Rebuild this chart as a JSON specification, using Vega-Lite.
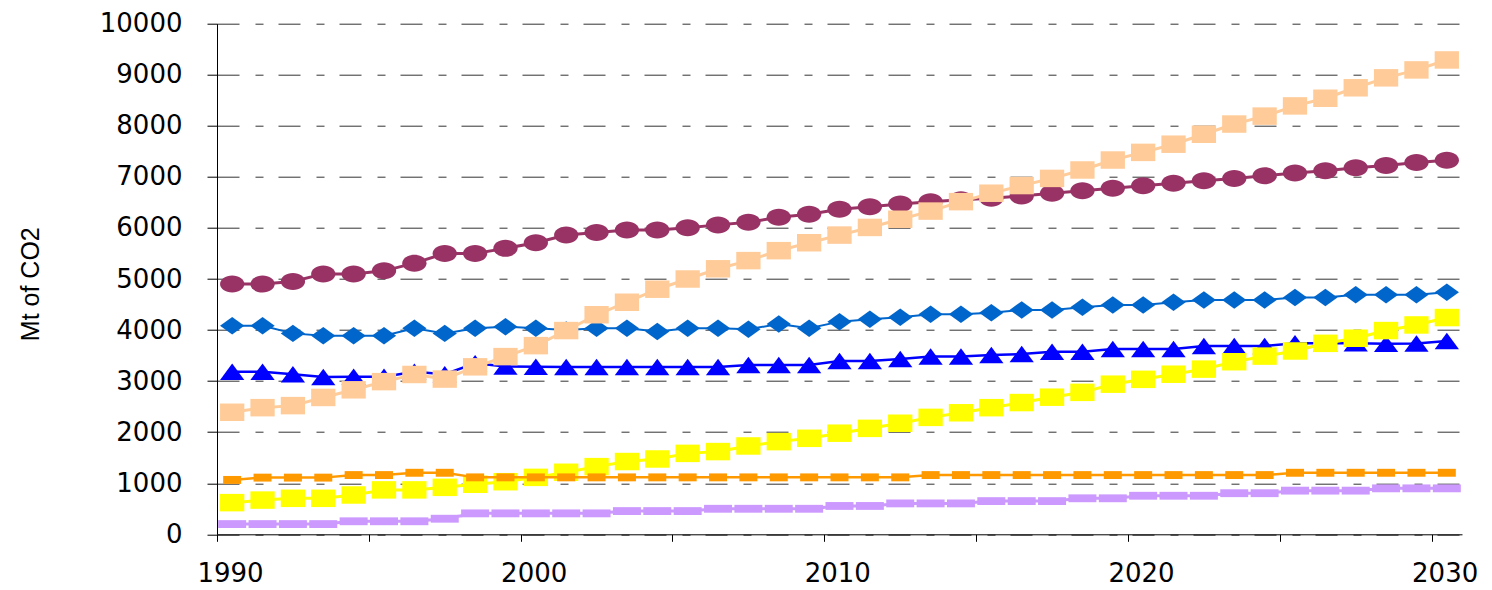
{
  "$schema": "https://vega.github.io/schema/vega-lite/v6.json",
  "width": 1245,
  "height": 510.6,
  "autosize": {"type": "none"},
  "padding": {"left": 217, "top": 23.7, "right": 30, "bottom": 55.7},
  "background": "white",
  "config": {
    "view": {"stroke": null},
    "axis": {"domainColor": "#000", "tickColor": "#000", "labelColor": "#000", "titleColor": "#000"}
  },
  "data": {"values": [
    {"year":1990,"series":"circle","v":4900},{"year":1991,"series":"circle","v":4900},{"year":1992,"series":"circle","v":4950},{"year":1993,"series":"circle","v":5100},{"year":1994,"series":"circle","v":5100},{"year":1995,"series":"circle","v":5160},{"year":1996,"series":"circle","v":5310},{"year":1997,"series":"circle","v":5500},{"year":1998,"series":"circle","v":5500},{"year":1999,"series":"circle","v":5600},
    {"year":2000,"series":"circle","v":5710},{"year":2001,"series":"circle","v":5860},{"year":2002,"series":"circle","v":5910},{"year":2003,"series":"circle","v":5960},{"year":2004,"series":"circle","v":5960},{"year":2005,"series":"circle","v":6005},{"year":2006,"series":"circle","v":6060},{"year":2007,"series":"circle","v":6110},{"year":2008,"series":"circle","v":6210},{"year":2009,"series":"circle","v":6270},
    {"year":2010,"series":"circle","v":6365},{"year":2011,"series":"circle","v":6415},{"year":2012,"series":"circle","v":6470},{"year":2013,"series":"circle","v":6515},{"year":2014,"series":"circle","v":6550},{"year":2015,"series":"circle","v":6580},{"year":2016,"series":"circle","v":6625},{"year":2017,"series":"circle","v":6680},{"year":2018,"series":"circle","v":6730},{"year":2019,"series":"circle","v":6775},
    {"year":2020,"series":"circle","v":6825},{"year":2021,"series":"circle","v":6875},{"year":2022,"series":"circle","v":6925},{"year":2023,"series":"circle","v":6970},{"year":2024,"series":"circle","v":7020},{"year":2025,"series":"circle","v":7075},{"year":2026,"series":"circle","v":7120},{"year":2027,"series":"circle","v":7180},{"year":2028,"series":"circle","v":7225},{"year":2029,"series":"circle","v":7280},{"year":2030,"series":"circle","v":7325},

    {"year":1990,"series":"peach","v":2390},{"year":1991,"series":"peach","v":2480},{"year":1992,"series":"peach","v":2520},{"year":1993,"series":"peach","v":2680},{"year":1994,"series":"peach","v":2830},{"year":1995,"series":"peach","v":2990},{"year":1996,"series":"peach","v":3130},{"year":1997,"series":"peach","v":3040},{"year":1998,"series":"peach","v":3280},{"year":1999,"series":"peach","v":3480},
    {"year":2000,"series":"peach","v":3695},{"year":2001,"series":"peach","v":3990},{"year":2002,"series":"peach","v":4300},{"year":2003,"series":"peach","v":4545},{"year":2004,"series":"peach","v":4800},{"year":2005,"series":"peach","v":5000},{"year":2006,"series":"peach","v":5200},{"year":2007,"series":"peach","v":5360},{"year":2008,"series":"peach","v":5555},{"year":2009,"series":"peach","v":5710},
    {"year":2010,"series":"peach","v":5860},{"year":2011,"series":"peach","v":6010},{"year":2012,"series":"peach","v":6170},{"year":2013,"series":"peach","v":6330},{"year":2014,"series":"peach","v":6515},{"year":2015,"series":"peach","v":6680},{"year":2016,"series":"peach","v":6830},{"year":2017,"series":"peach","v":6970},{"year":2018,"series":"peach","v":7135},{"year":2019,"series":"peach","v":7330},
    {"year":2020,"series":"peach","v":7480},{"year":2021,"series":"peach","v":7640},{"year":2022,"series":"peach","v":7835},{"year":2023,"series":"peach","v":8035},{"year":2024,"series":"peach","v":8190},{"year":2025,"series":"peach","v":8390},{"year":2026,"series":"peach","v":8540},{"year":2027,"series":"peach","v":8745},{"year":2028,"series":"peach","v":8940},{"year":2029,"series":"peach","v":9095},{"year":2030,"series":"peach","v":9290},

    {"year":1990,"series":"diamond","v":4085},{"year":1991,"series":"diamond","v":4085},{"year":1992,"series":"diamond","v":3935},{"year":1993,"series":"diamond","v":3890},{"year":1994,"series":"diamond","v":3890},{"year":1995,"series":"diamond","v":3890},{"year":1996,"series":"diamond","v":4035},{"year":1997,"series":"diamond","v":3935},{"year":1998,"series":"diamond","v":4035},{"year":1999,"series":"diamond","v":4065},
    {"year":2000,"series":"diamond","v":4035},{"year":2001,"series":"diamond","v":4000},{"year":2002,"series":"diamond","v":4035},{"year":2003,"series":"diamond","v":4035},{"year":2004,"series":"diamond","v":3970},{"year":2005,"series":"diamond","v":4035},{"year":2006,"series":"diamond","v":4035},{"year":2007,"series":"diamond","v":4015},{"year":2008,"series":"diamond","v":4120},{"year":2009,"series":"diamond","v":4035},
    {"year":2010,"series":"diamond","v":4165},{"year":2011,"series":"diamond","v":4210},{"year":2012,"series":"diamond","v":4250},{"year":2013,"series":"diamond","v":4310},{"year":2014,"series":"diamond","v":4310},{"year":2015,"series":"diamond","v":4340},{"year":2016,"series":"diamond","v":4395},{"year":2017,"series":"diamond","v":4395},{"year":2018,"series":"diamond","v":4445},{"year":2019,"series":"diamond","v":4490},
    {"year":2020,"series":"diamond","v":4490},{"year":2021,"series":"diamond","v":4545},{"year":2022,"series":"diamond","v":4590},{"year":2023,"series":"diamond","v":4590},{"year":2024,"series":"diamond","v":4590},{"year":2025,"series":"diamond","v":4640},{"year":2026,"series":"diamond","v":4640},{"year":2027,"series":"diamond","v":4690},{"year":2028,"series":"diamond","v":4690},{"year":2029,"series":"diamond","v":4690},{"year":2030,"series":"diamond","v":4740},

    {"year":1990,"series":"triangle","v":3185},{"year":1991,"series":"triangle","v":3185},{"year":1992,"series":"triangle","v":3135},{"year":1993,"series":"triangle","v":3080},{"year":1994,"series":"triangle","v":3085},{"year":1995,"series":"triangle","v":3085},{"year":1996,"series":"triangle","v":3185},{"year":1997,"series":"triangle","v":3135},{"year":1998,"series":"triangle","v":3350},{"year":1999,"series":"triangle","v":3285},
    {"year":2000,"series":"triangle","v":3280},{"year":2001,"series":"triangle","v":3275},{"year":2002,"series":"triangle","v":3275},{"year":2003,"series":"triangle","v":3275},{"year":2004,"series":"triangle","v":3275},{"year":2005,"series":"triangle","v":3275},{"year":2006,"series":"triangle","v":3275},{"year":2007,"series":"triangle","v":3315},{"year":2008,"series":"triangle","v":3315},{"year":2009,"series":"triangle","v":3315},
    {"year":2010,"series":"triangle","v":3395},{"year":2011,"series":"triangle","v":3395},{"year":2012,"series":"triangle","v":3435},{"year":2013,"series":"triangle","v":3480},{"year":2014,"series":"triangle","v":3480},{"year":2015,"series":"triangle","v":3510},{"year":2016,"series":"triangle","v":3530},{"year":2017,"series":"triangle","v":3575},{"year":2018,"series":"triangle","v":3575},{"year":2019,"series":"triangle","v":3630},
    {"year":2020,"series":"triangle","v":3630},{"year":2021,"series":"triangle","v":3630},{"year":2022,"series":"triangle","v":3690},{"year":2023,"series":"triangle","v":3690},{"year":2024,"series":"triangle","v":3690},{"year":2025,"series":"triangle","v":3740},{"year":2026,"series":"triangle","v":3740},{"year":2027,"series":"triangle","v":3740},{"year":2028,"series":"triangle","v":3730},{"year":2029,"series":"triangle","v":3735},{"year":2030,"series":"triangle","v":3785},

    {"year":1990,"series":"yellow","v":620},{"year":1991,"series":"yellow","v":670},{"year":1992,"series":"yellow","v":705},{"year":1993,"series":"yellow","v":705},{"year":1994,"series":"yellow","v":770},{"year":1995,"series":"yellow","v":870},{"year":1996,"series":"yellow","v":870},{"year":1997,"series":"yellow","v":920},{"year":1998,"series":"yellow","v":980},{"year":1999,"series":"yellow","v":1030},
    {"year":2000,"series":"yellow","v":1115},{"year":2001,"series":"yellow","v":1215},{"year":2002,"series":"yellow","v":1325},{"year":2003,"series":"yellow","v":1425},{"year":2004,"series":"yellow","v":1475},{"year":2005,"series":"yellow","v":1585},{"year":2006,"series":"yellow","v":1620},{"year":2007,"series":"yellow","v":1730},{"year":2008,"series":"yellow","v":1815},{"year":2009,"series":"yellow","v":1880},
    {"year":2010,"series":"yellow","v":1980},{"year":2011,"series":"yellow","v":2075},{"year":2012,"series":"yellow","v":2175},{"year":2013,"series":"yellow","v":2290},{"year":2014,"series":"yellow","v":2380},{"year":2015,"series":"yellow","v":2480},{"year":2016,"series":"yellow","v":2580},{"year":2017,"series":"yellow","v":2685},{"year":2018,"series":"yellow","v":2780},{"year":2019,"series":"yellow","v":2940},
    {"year":2020,"series":"yellow","v":3035},{"year":2021,"series":"yellow","v":3135},{"year":2022,"series":"yellow","v":3235},{"year":2023,"series":"yellow","v":3380},{"year":2024,"series":"yellow","v":3490},{"year":2025,"series":"yellow","v":3590},{"year":2026,"series":"yellow","v":3740},{"year":2027,"series":"yellow","v":3840},{"year":2028,"series":"yellow","v":3990},{"year":2029,"series":"yellow","v":4100},{"year":2030,"series":"yellow","v":4245},

    {"year":1990,"series":"orange","v":1065},{"year":1991,"series":"orange","v":1110},{"year":1992,"series":"orange","v":1110},{"year":1993,"series":"orange","v":1110},{"year":1994,"series":"orange","v":1160},{"year":1995,"series":"orange","v":1160},{"year":1996,"series":"orange","v":1205},{"year":1997,"series":"orange","v":1205},{"year":1998,"series":"orange","v":1115},{"year":1999,"series":"orange","v":1115},
    {"year":2000,"series":"orange","v":1115},{"year":2001,"series":"orange","v":1115},{"year":2002,"series":"orange","v":1115},{"year":2003,"series":"orange","v":1115},{"year":2004,"series":"orange","v":1115},{"year":2005,"series":"orange","v":1115},{"year":2006,"series":"orange","v":1115},{"year":2007,"series":"orange","v":1115},{"year":2008,"series":"orange","v":1115},{"year":2009,"series":"orange","v":1115},
    {"year":2010,"series":"orange","v":1115},{"year":2011,"series":"orange","v":1115},{"year":2012,"series":"orange","v":1115},{"year":2013,"series":"orange","v":1160},{"year":2014,"series":"orange","v":1160},{"year":2015,"series":"orange","v":1160},{"year":2016,"series":"orange","v":1160},{"year":2017,"series":"orange","v":1160},{"year":2018,"series":"orange","v":1160},{"year":2019,"series":"orange","v":1160},
    {"year":2020,"series":"orange","v":1160},{"year":2021,"series":"orange","v":1160},{"year":2022,"series":"orange","v":1160},{"year":2023,"series":"orange","v":1160},{"year":2024,"series":"orange","v":1160},{"year":2025,"series":"orange","v":1205},{"year":2026,"series":"orange","v":1205},{"year":2027,"series":"orange","v":1205},{"year":2028,"series":"orange","v":1205},{"year":2029,"series":"orange","v":1205},{"year":2030,"series":"orange","v":1205},

    {"year":1990,"series":"lavender","v":200},{"year":1991,"series":"lavender","v":200},{"year":1992,"series":"lavender","v":200},{"year":1993,"series":"lavender","v":200},{"year":1994,"series":"lavender","v":255},{"year":1995,"series":"lavender","v":255},{"year":1996,"series":"lavender","v":255},{"year":1997,"series":"lavender","v":305},{"year":1998,"series":"lavender","v":410},{"year":1999,"series":"lavender","v":410},
    {"year":2000,"series":"lavender","v":410},{"year":2001,"series":"lavender","v":410},{"year":2002,"series":"lavender","v":410},{"year":2003,"series":"lavender","v":455},{"year":2004,"series":"lavender","v":455},{"year":2005,"series":"lavender","v":455},{"year":2006,"series":"lavender","v":500},{"year":2007,"series":"lavender","v":500},{"year":2008,"series":"lavender","v":500},{"year":2009,"series":"lavender","v":500},
    {"year":2010,"series":"lavender","v":555},{"year":2011,"series":"lavender","v":555},{"year":2012,"series":"lavender","v":605},{"year":2013,"series":"lavender","v":605},{"year":2014,"series":"lavender","v":605},{"year":2015,"series":"lavender","v":650},{"year":2016,"series":"lavender","v":650},{"year":2017,"series":"lavender","v":650},{"year":2018,"series":"lavender","v":705},{"year":2019,"series":"lavender","v":705},
    {"year":2020,"series":"lavender","v":755},{"year":2021,"series":"lavender","v":755},{"year":2022,"series":"lavender","v":755},{"year":2023,"series":"lavender","v":805},{"year":2024,"series":"lavender","v":805},{"year":2025,"series":"lavender","v":855},{"year":2026,"series":"lavender","v":855},{"year":2027,"series":"lavender","v":855},{"year":2028,"series":"lavender","v":900},{"year":2029,"series":"lavender","v":900},{"year":2030,"series":"lavender","v":900}
  ]},
  "encoding": {
    "x": {
      "field": "year", "type": "ordinal",
      "scale": {"type": "point", "padding": 0.5},
      "axis": {
        "title": null,
        "values": [1990,1995,2000,2005,2010,2015,2020,2025,2030],
        "labelExpr": "datum.value % 10 == 0 ? datum.label : ''",
        "labelAngle": 0,
        "tickOffset": -15.18,
        "labelOffset": 13,
        "tickSize": 7,
        "tickWidth": 1,
        "domainWidth": 1,
        "labelFont": "DejaVu Sans",
        "labelFontSize": 26,
        "labelPadding": 19,
        "grid": false
      }
    },
    "y": {
      "field": "v", "type": "quantitative",
      "scale": {"domain": [0, 10000], "nice": false},
      "axis": {
        "title": "Mt of CO2",
        "titleFont": "Liberation Sans",
        "titleFontSize": 25,
        "titleFontWeight": "normal",
        "titleX": -179,
        "titleY": 260,
        "titleAngle": 270,
        "titleAlign": "center",
        "titleBaseline": "alphabetic",
        "values": [0,1000,2000,3000,4000,5000,6000,7000,8000,9000,10000],
        "format": "d",
        "tickSize": 10,
        "tickWidth": 1,
        "domainWidth": 1,
        "labelFont": "DejaVu Sans",
        "labelFontSize": 26,
        "labelPadding": 25,
        "grid": true,
        "gridColor": "#333",
        "gridWidth": 1,
        "gridDash": [22, 16, 8, 15]
      }
    }
  },
  "layer": [
    {"transform": [{"filter": "datum.series == 'circle'"}],
     "mark": {"type": "line", "color": "#993366", "strokeWidth": 3,
              "point": {"filled": true, "color": "#993366", "size": 590, "opacity": 1, "shape": "M-1,0A1,0.7 0 1,1 1,0A1,0.7 0 1,1 -1,0Z"}}},
    {"transform": [{"filter": "datum.series == 'diamond'"}],
     "mark": {"type": "line", "color": "#0066CC", "strokeWidth": 2,
              "point": {"filled": true, "color": "#0066CC", "size": 590, "opacity": 1, "shape": "M0,-0.72L1,0L0,0.72L-1,0Z"}}},
    {"transform": [{"filter": "datum.series == 'triangle'"}],
     "mark": {"type": "line", "color": "#0000FF", "strokeWidth": 2.5,
              "point": {"filled": true, "color": "#0000FF", "size": 590, "opacity": 1, "shape": "M0,-0.68L1,0.68L-1,0.68Z"}}},
    {"transform": [{"filter": "datum.series == 'yellow'"}],
     "mark": {"type": "line", "color": "#FFFF00", "strokeWidth": 3,
              "point": {"filled": true, "color": "#FFFF00", "size": 590, "opacity": 1, "shape": "M-1,-0.72L1,-0.72L1,0.72L-1,0.72Z"}}},
    {"transform": [{"filter": "datum.series == 'orange'"}],
     "mark": {"type": "line", "color": "#FF9900", "strokeWidth": 2.5,
              "point": {"filled": true, "color": "#FF9900", "size": 324, "opacity": 1, "shape": "M-1,-0.44L1,-0.44L1,0.44L-1,0.44Z"}}},
    {"transform": [{"filter": "datum.series == 'lavender'"}],
     "mark": {"type": "line", "color": "#CC99FF", "strokeWidth": 3,
              "point": {"filled": true, "color": "#CC99FF", "size": 784, "opacity": 1, "shape": "M-1,-0.28L1,-0.28L1,0.28L-1,0.28Z"}}},
    {"transform": [{"filter": "datum.series == 'peach'"}],
     "mark": {"type": "line", "color": "#FFCC99", "strokeWidth": 3,
              "point": {"filled": true, "color": "#FFCC99", "size": 590, "opacity": 1, "shape": "M-1,-0.72L1,-0.72L1,0.72L-1,0.72Z"}}}
  ]
}
